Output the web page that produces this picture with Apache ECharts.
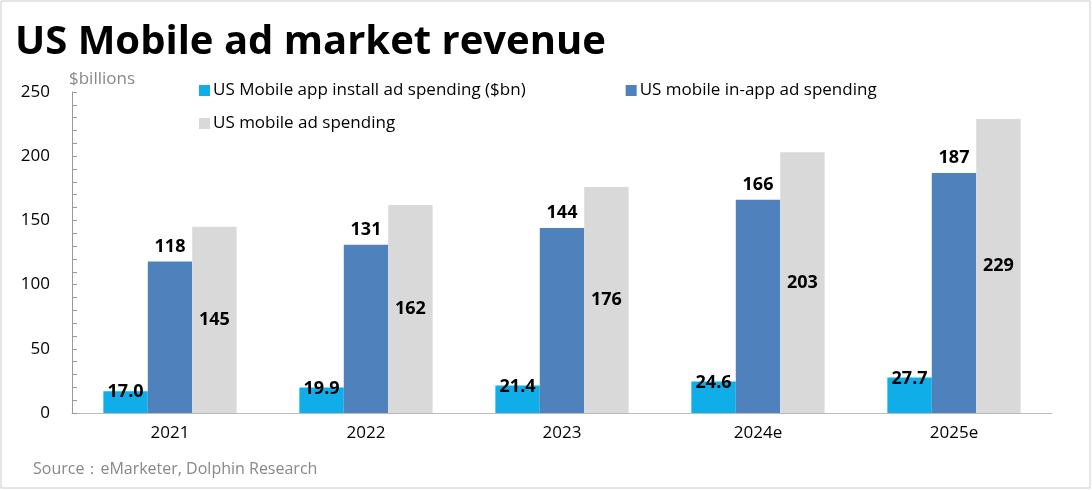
<!DOCTYPE html>
<html><head><meta charset="utf-8">
<script src="https://cdn.jsdelivr.net/npm/echarts@6/dist/echarts.min.js"></script>
<style>html,body{margin:0;padding:0;background:#fff}#c{width:1092px;height:490px}</style>
</head><body><div id="c"></div>
<script>
var categories = ['2021', '2022', '2023', '2024e', '2025e'];
var installSpend = [17.0, 19.9, 21.4, 24.6, 27.7];
var inAppSpend = [118, 131, 144, 166, 187];
var mobileSpend = [145, 162, 176, 203, 229];
var names = ['US Mobile app install ad spending ($bn)', 'US mobile in-app ad spending', 'US mobile ad spending'];

var chart = echarts.init(document.getElementById('c'));
var lbl = { show: true, color: '#000', fontWeight: 'bold', fontSize: 18, fontFamily: 'Open Sans' };
chart.setOption({
  animation: false,
  textStyle: { fontFamily: 'Open Sans' },
  title: [
    { text: 'US Mobile ad market revenue', left: 10, top: 18, textStyle: { fontSize: 40, fontWeight: 'bold', color: '#000' } },
    { text: '$billions', left: 64, top: 66, textStyle: { fontSize: 17, fontWeight: 'normal', color: '#888' } },
    { text: 'Source：eMarketer, Dolphin Research', left: 28, top: 456, textStyle: { fontSize: 16, fontWeight: 'normal', color: '#888' } }
  ],
  legend: [
    { data: [names[0], names[1]], left: 194, top: 77, itemWidth: 11, itemHeight: 11, itemGap: 100, icon: 'rect',
      textStyle: { fontSize: 17, color: '#000', padding: [0, 0, 0, -2] } },
    { data: [names[2]], left: 194, top: 110, itemWidth: 11, itemHeight: 11, icon: 'rect',
      textStyle: { fontSize: 17, color: '#000', padding: [0, 0, 0, -2] } }
  ],
  graphic: [{ type: 'rect', shape: { x: 1, y: 1, width: 1089, height: 487 }, style: { fill: 'none', stroke: '#ccc', lineWidth: 1 } }],
  grid: { left: 72, right: 40, top: 92, bottom: 77 },
  xAxis: {
    type: 'category', data: categories,
    axisLine: { lineStyle: { color: '#bbb' } }, axisTick: { show: false },
    axisLabel: { fontSize: 17, color: '#000', margin: 12 }
  },
  yAxis: {
    type: 'value', min: 0, max: 250, interval: 50,
    axisLine: { show: true, lineStyle: { color: '#999' } },
    axisTick: { show: true, inside: true, length: 5, lineStyle: { color: '#999' } },
    minorTick: { show: true, splitNumber: 5, length: 5, lineStyle: { color: '#999' } },
    splitLine: { show: false },
    axisLabel: { fontSize: 17, color: '#000', margin: 22 }
  },
  series: [
    { name: names[0], type: 'bar', data: installSpend, barGap: '0%', barCategoryGap: '32%',
      itemStyle: { color: '#10aee8' },
      label: Object.assign({}, lbl, { position: 'top', distance: -10, formatter: function (p) { return p.value.toFixed(1); } }) },
    { name: names[1], type: 'bar', data: inAppSpend, itemStyle: { color: '#4f81bd' },
      label: Object.assign({}, lbl, { position: 'top', distance: 6 }) },
    { name: names[2], type: 'bar', data: mobileSpend, itemStyle: { color: '#d9d9d9' },
      label: Object.assign({}, lbl, { position: 'inside' }) }
  ]
});
</script></body></html>
